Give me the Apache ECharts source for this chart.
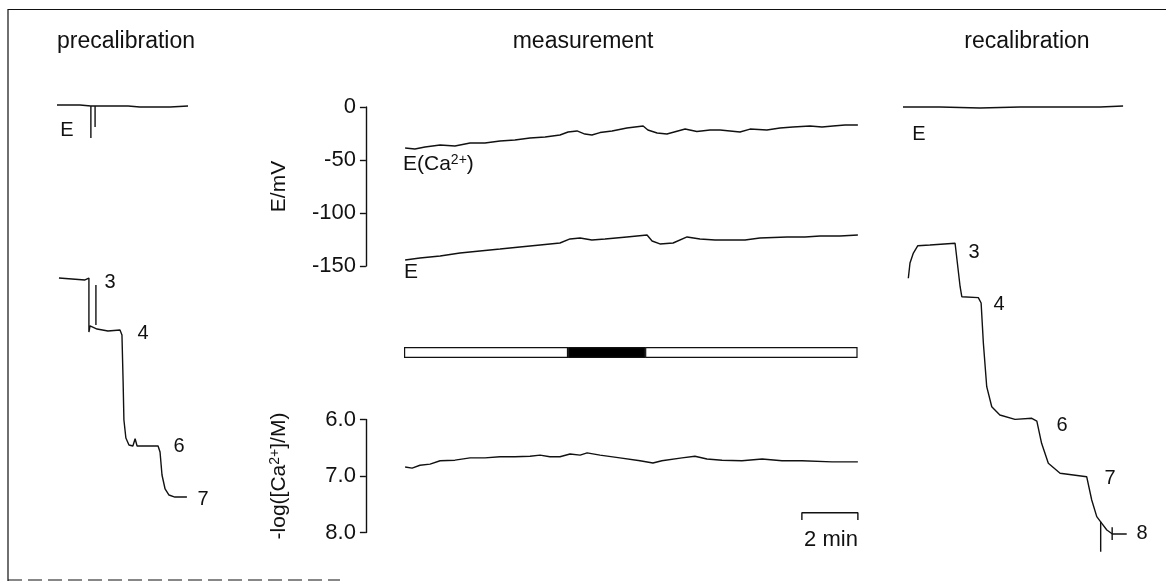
<!DOCTYPE html>
<html>
<head>
<meta charset="utf-8">
<script src="https://cdn.jsdelivr.net/npm/echarts@6/dist/echarts.min.js"></script>
<style>
html,body{margin:0;padding:0;background:#fff;}
#chart{width:1166px;height:582px;}
</style>
</head>
<body>
<div id="chart"></div>
<script>
// ---------- DATA (time in min, potentials in mV, pCa in -log units) ----------
// Precalibration
const preRefE = [[0,-14.2],[0.82,-14.2],[1.21,-15.1],[1.21,-45.3],[1.21,-15.1],[1.36,-15.1],[1.36,-34.9],[1.36,-15.1],[2.54,-15.1],[2.96,-16.0],[4.04,-16.0],[4.68,-15.1]];
const preCaE = [[0.07,-177.4],[1.00,-179.2],[1.14,-177.4],[1.14,-228.3],[1.18,-222.6],[1.25,-220.8],[1.43,-225.5],[1.82,-227.4],[2.25,-226.4],[2.32,-231.1],[2.36,-273.6],[2.39,-311.3],[2.46,-328.3],[2.57,-334.9],[2.71,-335.8],[2.79,-329.0],[2.86,-335.8],[3.14,-335.8],[3.61,-335.8],[3.68,-341.5],[3.75,-363.2],[3.86,-376.4],[4.00,-382.1],[4.21,-384.0],[4.64,-384.0]];
const preCaArtifact = [[1.39,-183.9],[1.39,-221.7]];
const preLabels = ['E','3','4','6','7'];

// Measurement
const measECa = [[0.04,-38.7],[0.39,-39.6],[0.75,-37.7],[1.29,-35.8],[1.82,-36.8],[2.36,-34.0],[2.89,-34.0],[3.43,-32.1],[3.96,-31.1],[4.50,-29.2],[5.04,-28.3],[5.57,-26.4],[5.86,-23.6],[6.18,-22.6],[6.46,-25.5],[6.71,-26.4],[7.00,-24.1],[7.43,-22.6],[7.96,-19.8],[8.54,-17.9],[8.71,-21.7],[9.04,-24.5],[9.39,-25.5],[10.04,-20.8],[10.46,-23.1],[10.93,-21.7],[11.29,-21.7],[12.00,-23.6],[12.36,-20.8],[12.96,-21.7],[13.43,-19.8],[13.89,-18.9],[14.50,-17.9],[14.93,-18.9],[15.32,-17.9],[15.75,-17.0],[16.21,-17.0]];
const measE = [[0.04,-144.3],[0.57,-142.5],[1.29,-140.6],[2.00,-137.7],[2.71,-135.8],[3.43,-134.0],[4.14,-132.1],[4.86,-130.2],[5.57,-128.3],[5.93,-124.5],[6.29,-123.6],[6.71,-125.5],[7.18,-124.5],[7.96,-122.6],[8.68,-120.8],[8.86,-126.4],[9.14,-129.2],[9.61,-128.3],[10.11,-122.6],[10.57,-124.5],[11.11,-125.5],[11.54,-125.5],[12.18,-125.5],[12.71,-123.6],[13.68,-122.6],[14.32,-122.6],[14.86,-121.7],[15.57,-121.7],[16.21,-120.8]];
const measPCa = [[0.04,6.84],[0.29,6.86],[0.57,6.81],[0.93,6.79],[1.29,6.73],[1.82,6.72],[2.36,6.68],[2.89,6.68],[3.43,6.66],[3.96,6.66],[4.50,6.65],[4.86,6.63],[5.21,6.66],[5.57,6.66],[5.93,6.61],[6.29,6.63],[6.54,6.59],[7.00,6.63],[7.71,6.68],[8.43,6.73],[8.89,6.77],[9.21,6.73],[9.93,6.68],[10.39,6.65],[10.82,6.70],[11.36,6.72],[12.07,6.73],[12.79,6.70],[13.50,6.73],[14.21,6.73],[15.29,6.75],[16.21,6.75]];
const eTicks = [0,-50,-100,-150];
const pCaTicks = [6.0,7.0,8.0];
const recordEnd = 16.2;           // min
const stimOn = 5.86, stimOff = 8.61; // min (black bar)
const scaleBarStart = 14.21, scaleBarLength = 2; // "2 min"

// Recalibration
const recRefE = [[0,-16.0],[1.32,-16.0],[2.75,-17.0],[4.18,-16.0],[5.61,-16.0],[7.04,-16.0],[7.86,-15.1]];
const recCaE = [[0.19,-177.6],[0.25,-163.2],[0.37,-153.8],[0.53,-146.9],[0.96,-146.2],[1.86,-144.6],[2.04,-185.6],[2.10,-195.0],[2.69,-195.9],[2.79,-200.9],[2.87,-238.7],[2.99,-279.9],[3.17,-298.8],[3.46,-306.6],[4.00,-310.7],[4.60,-309.7],[4.78,-312.3],[4.95,-333.3],[5.19,-352.2],[5.61,-361.6],[6.56,-364.8],[6.74,-386.8],[6.92,-402.5],[7.10,-408.8],[7.28,-415.1],[7.48,-418.9],[7.99,-418.9]];
const recSpike = [[7.06,-407.3],[7.06,-435.6]];
const recTick = [[7.47,-412.5],[7.47,-424.5]];
const recLabels = ['E','3','4','6','7','8'];

// ---------- CHART ----------
const FONT = '"Liberation Sans", Arial, Helvetica, sans-serif';
const INK = '#111';
const PX_PER_MIN = 28;
const PX_PER_MV = 1.06;
const AXIS_LEAD = 1.36;   // min of blank space between the y axis and the start of the record

const chart = echarts.init(document.getElementById('chart'), null, {renderer:'canvas'});

function line(data, xi, yi){
  return {type:'line', xAxisIndex:xi, yAxisIndex:yi, data:data, symbol:'none', silent:true,
          lineStyle:{color:INK, width:1.4}, animation:false, z:3};
}
function hiddenX(gi, min, max){ return {type:'value', gridIndex:gi, min:min, max:max, show:false}; }
function txt(x, y, s, size, align){
  return {type:'text', x:x, y:y, silent:true,
    style:{text:s, font:(size||20)+'px '+FONT, fill:INK,
      textAlign:align||'center', align:align||'center', textVerticalAlign:'middle', verticalAlign:'middle'}};
}

const supRich = {sup:{fontSize:14, fontFamily:FONT, color:INK, verticalAlign:'top', padding:[0,0,8,0]}};
const midLeft = 404 - AXIS_LEAD*PX_PER_MIN;
const midWidth = (recordEnd + AXIS_LEAD)*PX_PER_MIN;

const option = {
  backgroundColor:'#fff',
  animation:false,
  grid:[
    {left:57, top:90, width:4.75*PX_PER_MIN, height:400*PX_PER_MV},     // 0 precal
    {left:midLeft, top:107, width:midWidth, height:150*PX_PER_MV},      // 1 E/mV
    {left:midLeft, top:347, width:midWidth, height:11},                 // 2 stimulus bar
    {left:midLeft, top:419.5, width:midWidth, height:113},              // 3 pCa
    {left:903, top:90, width:8.1*PX_PER_MIN, height:440*PX_PER_MV}      // 4 recal
  ],
  xAxis:[
    hiddenX(0,0,4.75),
    hiddenX(1,-AXIS_LEAD,recordEnd),
    hiddenX(2,-AXIS_LEAD,recordEnd),
    hiddenX(3,-AXIS_LEAD,recordEnd),
    hiddenX(4,0,8.1)
  ],
  yAxis:[
    {type:'value', gridIndex:0, min:-400, max:0, show:false},
    {type:'value', gridIndex:1, min:-150, max:0, interval:50,
      axisLine:{show:true, onZero:false, lineStyle:{color:INK, width:1.4}},
      axisTick:{show:true, length:6, lineStyle:{color:INK, width:1.4}},
      splitLine:{show:false},
      axisLabel:{color:INK, fontFamily:FONT, fontSize:22, margin:10},
      name:'E/mV', nameLocation:'middle', nameGap:76, nameRotate:90,
      nameTextStyle:{color:INK, fontFamily:FONT, fontSize:21}
    },
    {type:'category', gridIndex:2, data:['stim'], show:false},
    {type:'value', gridIndex:3, min:6, max:8, interval:1, inverse:true,
      axisLine:{show:true, onZero:false, lineStyle:{color:INK, width:1.4}},
      axisTick:{show:true, length:6, lineStyle:{color:INK, width:1.4}},
      splitLine:{show:false},
      axisLabel:{color:INK, fontFamily:FONT, fontSize:22, margin:10,
        formatter:function(v){return v.toFixed(1);}},
      name:'-log([Ca{sup|2+}]/M)', nameLocation:'middle', nameGap:76, nameRotate:90,
      nameTextStyle:{color:INK, fontFamily:FONT, fontSize:21, rich:supRich}
    },
    {type:'value', gridIndex:4, min:-440, max:0, show:false}
  ],
  series:[
    line(preRefE,0,0), line(preCaE,0,0), line(preCaArtifact,0,0),
    line(measECa,1,1), line(measE,1,1),
    {type:'bar', xAxisIndex:2, yAxisIndex:2, stack:'stim', data:[stimOn], barWidth:11, silent:true,
      itemStyle:{color:'#fff', borderColor:INK, borderWidth:1.2}},
    {type:'bar', xAxisIndex:2, yAxisIndex:2, stack:'stim', data:[stimOff-stimOn], barWidth:11, silent:true,
      itemStyle:{color:'#000', borderColor:INK, borderWidth:1.2}},
    {type:'bar', xAxisIndex:2, yAxisIndex:2, stack:'stim', data:[recordEnd-stimOff], barWidth:11, silent:true,
      itemStyle:{color:'#fff', borderColor:INK, borderWidth:1.2}},
    line(measPCa,3,3),
    line([[scaleBarStart,7.78],[scaleBarStart,7.65],[scaleBarStart+scaleBarLength,7.65],[scaleBarStart+scaleBarLength,7.78]],3,3),
    line(recRefE,4,4), line(recCaE,4,4), line(recSpike,4,4), line(recTick,4,4)
  ],
  graphic:[
    // frame
    {type:'polyline', silent:true, shape:{points:[[8,581],[8,9.5],[1166,9.5]]}, style:{stroke:INK, lineWidth:1.2, fill:null}},
    {type:'line', silent:true, shape:{x1:8,y1:580,x2:340,y2:580}, style:{stroke:INK, lineWidth:1.2, lineDash:[14,6]}},
    // panel titles
    txt(126,42,'precalibration',23),
    txt(583,42,'measurement',23),
    txt(1027,42,'recalibration',23),
    // precalibration labels
    txt(67,130,preLabels[0]), txt(110,282,preLabels[1]), txt(143,333,preLabels[2]),
    txt(179,446,preLabels[3]), txt(203,499,preLabels[4]),
    // measurement labels
    {type:'text', x:403, y:164, silent:true,
      style:{text:'E(Ca{sup|2+})', font:'21px '+FONT, fill:INK, textAlign:'left', align:'left',
        textVerticalAlign:'middle', verticalAlign:'middle', rich:supRich}},
    txt(404,272,'E',21,'left'),
    txt(831,540,'2 min',22),
    // recalibration labels
    txt(919,134,recLabels[0]), txt(974,252,recLabels[1]), txt(999,304,recLabels[2]),
    txt(1062,425,recLabels[3]), txt(1110,478,recLabels[4]), txt(1142,533,recLabels[5])
  ]
};
chart.setOption(option);
</script>
</body>
</html>
